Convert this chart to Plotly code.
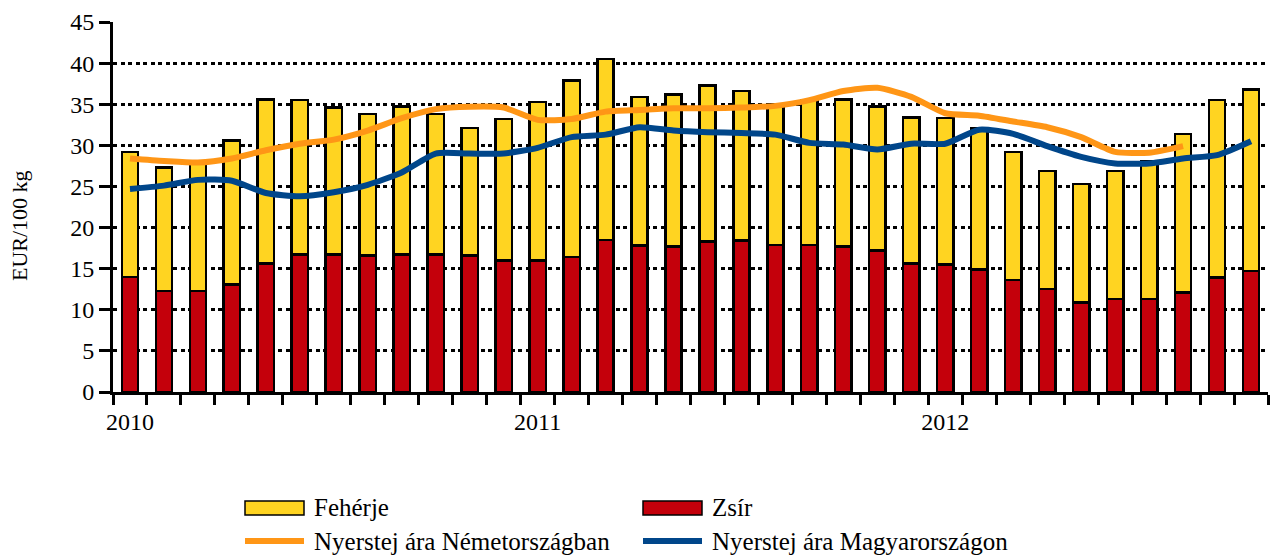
import plotly.graph_objects as go

months = ["2010-01", "2010-02", "2010-03", "2010-04", "2010-05", "2010-06",
          "2010-07", "2010-08", "2010-09", "2010-10", "2010-11", "2010-12",
          "2011-01", "2011-02", "2011-03", "2011-04", "2011-05", "2011-06",
          "2011-07", "2011-08", "2011-09", "2011-10", "2011-11", "2011-12",
          "2012-01", "2012-02", "2012-03", "2012-04", "2012-05", "2012-06",
          "2012-07", "2012-08", "2012-09", "2012-10"]
tick_text = ["2010", "", "", "", "", "", "", "", "", "", "", "",
             "2011", "", "", "", "", "", "", "", "", "", "", "",
             "2012", "", "", "", "", "", "", "", "", ""]

zsir = [14.0, 12.3, 12.3, 13.1, 15.6, 16.7, 16.7, 16.6, 16.7, 16.7, 16.6, 16.0,
        16.0, 16.4, 18.5, 17.8, 17.7, 18.3, 18.4, 17.9, 17.9, 17.7, 17.2, 15.6,
        15.5, 14.9, 13.6, 12.5, 10.9, 11.3, 11.3, 12.1, 13.9, 14.7]
feherje = [15.2, 15.0, 15.6, 17.5, 20.0, 18.8, 17.9, 17.2, 18.0, 17.1, 15.5, 17.2,
           19.3, 21.5, 22.0, 18.1, 18.5, 19.0, 18.2, 17.1, 17.6, 17.9, 17.5, 17.8,
           17.8, 17.2, 15.6, 14.4, 14.4, 15.6, 16.8, 19.3, 21.6, 22.1]
nemet = [28.4, 28.1, 27.9, 28.4, 29.4, 30.2, 30.7, 31.8, 33.3, 34.4, 34.7, 34.6,
         33.1, 33.2, 34.1, 34.3, 34.5, 34.5, 34.6, 34.8, 35.5, 36.6, 37.0, 35.9,
         33.9, 33.6, 32.9, 32.2, 31.0, 29.2, 29.1, 29.9, None, None]
magyar = [24.7, 25.1, 25.8, 25.7, 24.2, 23.8, 24.3, 25.2, 26.7, 29.0, 29.0, 29.0,
          29.7, 31.0, 31.3, 32.2, 31.8, 31.6, 31.5, 31.3, 30.3, 30.1, 29.5, 30.2,
          30.2, 31.9, 31.4, 29.9, 28.6, 27.8, 27.8, 28.4, 28.8, 30.5]

YELLOW = "#FFD421"
RED = "#C4000B"
ORANGE = "#FF9616"
BLUE = "#00468A"
FONT = "Liberation Serif, Times New Roman, serif"

fig = go.Figure()
fig.add_trace(go.Bar(x=months, y=zsir, name="Zsír", marker_color=RED,
                     marker_line=dict(color="black", width=2.5), width=0.48))
fig.add_trace(go.Bar(x=months, y=feherje, name="Fehérje", marker_color=YELLOW,
                     marker_line=dict(color="black", width=2.5), width=0.48))
fig.add_trace(go.Scatter(x=months, y=nemet, name="Nyerstej ára Németországban",
                         mode="lines", line=dict(color=ORANGE, width=6, shape="spline", smoothing=0.6)))
fig.add_trace(go.Scatter(x=months, y=magyar, name="Nyerstej ára Magyarországon",
                         mode="lines", line=dict(color=BLUE, width=6, shape="spline", smoothing=0.6)))

L, R, T, B = 113, 2, 22, 166
W, H = 1270, 558
pw, ph = W - L - R, H - T - B


def px(x):
    return (x - L) / pw


def py(y):
    return (H - B - y) / ph


fig.update_layout(
    width=W, height=H,
    margin=dict(l=L, r=R, t=T, b=B, autoexpand=False),
    barmode="stack",
    showlegend=False,
    plot_bgcolor="white", paper_bgcolor="white",
    font=dict(family=FONT, size=24, color="black"),
)
fig.update_xaxes(
    type="category", range=[-0.5, 33.5],
    tickmode="array", tickvals=months, ticktext=tick_text, tickangle=0,
    tickson="boundaries", ticks="outside", ticklen=10, tickwidth=2.5, tickcolor="black",
    ticklabelstandoff=6, automargin=False,
    showline=True, linecolor="black", linewidth=3,
    showgrid=False, zeroline=False,
    tickfont=dict(family=FONT, size=24, color="black"),
)
fig.update_yaxes(
    range=[0, 45], tick0=0, dtick=5, automargin=False,
    ticks="outside", ticklen=11, tickwidth=2.5, tickcolor="black",
    showline=True, linecolor="black", linewidth=3,
    showgrid=True, gridcolor="black", gridwidth=2.5, griddash="4px,3.5px",
    zeroline=False,
    tickfont=dict(family=FONT, size=24, color="black"),
)

annotations = [
    dict(text="EUR/100 kg", x=px(20), y=py(226), xref="paper", yref="paper",
         textangle=-90, showarrow=False, xanchor="center", yanchor="middle",
         font=dict(family=FONT, size=22, color="black")),
]
shapes = []

# legend: (label, kind, colour, x of symbol, y centre)
legend_items = [
    ("Fehérje", "box", YELLOW, 245, 508),
    ("Zsír", "box", RED, 643, 508),
    ("Nyerstej ára Németországban", "line", ORANGE, 245, 541),
    ("Nyerstej ára Magyarországon", "line", BLUE, 643, 541),
]
for label, kind, col, x0, yc in legend_items:
    if kind == "box":
        shapes.append(dict(type="rect", xref="paper", yref="paper",
                           x0=px(x0), x1=px(x0 + 59), y0=py(yc - 7), y1=py(yc + 7),
                           fillcolor=col, line=dict(color="black", width=1.5)))
    else:
        shapes.append(dict(type="line", xref="paper", yref="paper",
                           x0=px(x0), x1=px(x0 + 59), y0=py(yc), y1=py(yc),
                           line=dict(color=col, width=6)))
    annotations.append(dict(text=label, x=px(x0 + 67), y=py(yc), xref="paper", yref="paper",
                            showarrow=False, xanchor="left", yanchor="middle",
                            font=dict(family=FONT, size=25, color="black")))

fig.update_layout(annotations=annotations, shapes=shapes)
fig.write_html("out.html", config={"displayModeBar": False},
               post_script="document.body.style.margin='0';document.body.style.overflow='hidden';")
